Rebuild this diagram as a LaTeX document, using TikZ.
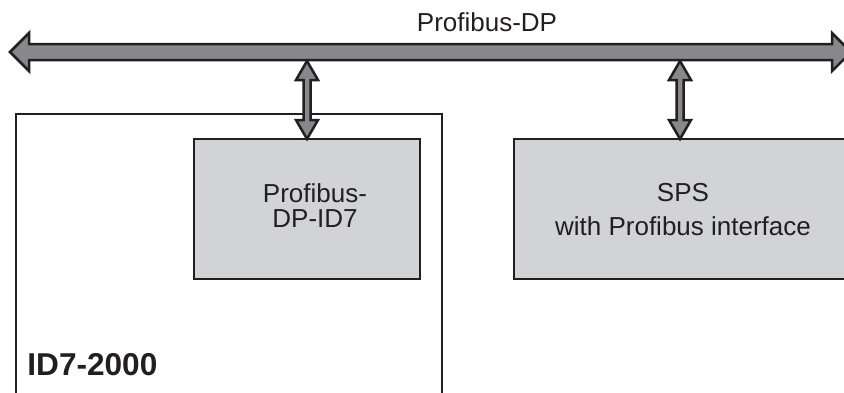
\documentclass[tikz,border=0pt]{standalone}
\usepackage{fontspec}
\setmainfont{Liberation Sans}
\usetikzlibrary{calc, positioning}

\definecolor{linecol}{RGB}{35,31,32}
\definecolor{arrowgray}{RGB}{135,136,139}
\definecolor{boxgray}{RGB}{210,211,213}

\tikzset{
	fatarrow/.style={draw=linecol, fill=arrowgray, line width=1.25pt, line join=miter},
	unitbox/.style={draw=linecol, fill=boxgray, line width=1.25pt, anchor=north west, inner sep=0pt, outer sep=0pt},
	lbl/.style={text=linecol, align=center, inner sep=0pt, font=\fontsize{13}{17}\selectfont},
}

\begin{document}
\begin{tikzpicture}[x=0.5pt, y=-0.5pt]
	\useasboundingbox (0,0) rectangle (844,392);
	% fieldbus
	\coordinate (bus_bottom) at (0,61);
	\draw[fatarrow] (10,52) -- (29,33) -- (29,44) -- (832,44) -- (832,33) -- (851,52)
		-- (832,71) -- (832,60) -- (29,60) -- (29,71) -- cycle;
	\node (bus_label) [lbl, anchor=base] at (487,31) {Profibus-DP};
	% terminal
	\node (id7) [draw=linecol, line width=1pt, outer sep=0pt, minimum width=213pt, minimum height=155pt, anchor=north west] at (16,114) {};
	\node (id7_label) [lbl, anchor=base west, font=\fontsize{15.8}{19}\selectfont\bfseries] at (27,375) {ID7-2000};
	\node (dp_id7) [unitbox, minimum width=113pt, minimum height=70pt] at (194,139) {};
	\node (dp_id7_label) [lbl, font=\fontsize{13}{12.5}\selectfont] at (315,206) {Profibus-\\DP-ID7};
	% controller
	\node (sps) [unitbox, minimum width=166pt, minimum height=70pt] at (514,139) {};
	\node (sps_label) [lbl] at (683,210) {SPS\\with Profibus interface};
	% links to the bus
	\coordinate (dp_top) at (dp_id7.north |- bus_bottom);
	\draw[fatarrow] (dp_top) -- ($(dp_top)+(-5.5pt,-9.5pt)$) -- ($(dp_top)+(-1.75pt,-9.5pt)$)
		-- ($(dp_id7.north)+(-1.75pt,9.5pt)$) -- ($(dp_id7.north)+(-5.5pt,9.5pt)$) -- (dp_id7.north)
		-- ($(dp_id7.north)+(5.5pt,9.5pt)$) -- ($(dp_id7.north)+(1.75pt,9.5pt)$)
		-- ($(dp_top)+(1.75pt,-9.5pt)$) -- ($(dp_top)+(5.5pt,-9.5pt)$) -- cycle;
	\coordinate (sps_top) at (sps.north |- bus_bottom);
	\draw[fatarrow] (sps_top) -- ($(sps_top)+(-5.5pt,-9.5pt)$) -- ($(sps_top)+(-1.75pt,-9.5pt)$)
		-- ($(sps.north)+(-1.75pt,9.5pt)$) -- ($(sps.north)+(-5.5pt,9.5pt)$) -- (sps.north)
		-- ($(sps.north)+(5.5pt,9.5pt)$) -- ($(sps.north)+(1.75pt,9.5pt)$)
		-- ($(sps_top)+(1.75pt,-9.5pt)$) -- ($(sps_top)+(5.5pt,-9.5pt)$) -- cycle;
\end{tikzpicture}
\end{document}
